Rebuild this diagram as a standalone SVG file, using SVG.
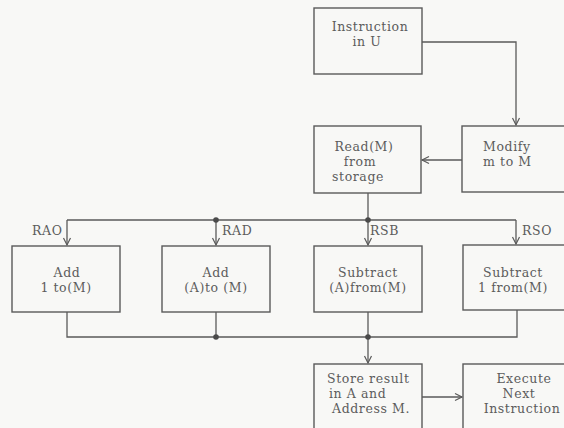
<svg xmlns="http://www.w3.org/2000/svg" width="564" height="428" viewBox="0 0 564 428">
  <defs>
    <marker id="arrow" markerWidth="10" markerHeight="10" refX="8" refY="5" orient="auto" markerUnits="userSpaceOnUse">
      <path d="M1,1.5 L8,5 L1,8.5" fill="none" stroke="#5a5a5a" stroke-width="1.2"/>
    </marker>
  </defs>
  <style>
    .box { fill: none; stroke: #5a5a5a; stroke-width: 1.4; }
    .wire { fill: none; stroke: #5a5a5a; stroke-width: 1.3; }
    .dot { fill: #4a4a4a; }
    text { font-family: "DejaVu Serif", "Liberation Serif", serif; font-size: 12.5px; letter-spacing: 0.6px; fill: #5c5c5c; }
    .c { text-anchor: middle; }
  </style>
  <rect width="564" height="428" fill="#f8f8f6"/>

  <!-- connectors -->
  <g id="connectors">
    <path class="wire" d="M422,42 H516 V125" marker-end="url(#arrow)"/>
    <path class="wire" d="M462,160 H422" marker-end="url(#arrow)"/>
    <path class="wire" d="M368,193 V220"/>
    <path class="wire" d="M67,220 H516"/>
    <path class="wire" d="M67,220 V245" marker-end="url(#arrow)"/>
    <path class="wire" d="M216,220 V245" marker-end="url(#arrow)"/>
    <path class="wire" d="M368,220 V245" marker-end="url(#arrow)"/>
    <path class="wire" d="M516,220 V244" marker-end="url(#arrow)"/>
    <path class="wire" d="M67,312 V337 H517 V310"/>
    <path class="wire" d="M216,312 V337"/>
    <path class="wire" d="M368,312 V337"/>
    <path class="wire" d="M368,337 V363" marker-end="url(#arrow)"/>
    <path class="wire" d="M422,397 H462" marker-end="url(#arrow)"/>
    <circle class="dot" cx="216" cy="220" r="2.8"/>
    <circle class="dot" cx="368" cy="220" r="2.8"/>
    <circle class="dot" cx="216" cy="337" r="2.8"/>
    <circle class="dot" cx="368" cy="337" r="2.8"/>
    <text x="32" y="235">RAO</text>
    <text x="222" y="235">RAD</text>
    <text x="370" y="235">RSB</text>
    <text x="522" y="235">RSO</text>
  </g>

  <g id="instruction">
    <rect class="box" x="314" y="8" width="108" height="66"/>
    <text class="c" x="370" y="31">Instruction</text>
    <text class="c" x="367" y="46">in U</text>
  </g>

  <g id="modify">
    <rect class="box" x="462" y="126" width="110" height="66"/>
    <text x="483" y="151">Modify</text>
    <text x="483" y="166">m to M</text>
  </g>

  <g id="read">
    <rect class="box" x="314" y="126" width="107" height="67"/>
    <text class="c" x="364" y="151">Read(M)</text>
    <text class="c" x="360" y="166">from</text>
    <text class="c" x="358" y="181">storage</text>
  </g>

  <g id="add-one">
    <rect class="box" x="12" y="246" width="108" height="66"/>
    <text class="c" x="67" y="277">Add</text>
    <text class="c" x="66" y="292">1 to(M)</text>
  </g>

  <g id="add-a">
    <rect class="box" x="162" y="246" width="108" height="66"/>
    <text class="c" x="216" y="277">Add</text>
    <text class="c" x="216" y="292">(A)to (M)</text>
  </g>

  <g id="subtract-a">
    <rect class="box" x="314" y="246" width="108" height="66"/>
    <text class="c" x="368" y="277">Subtract</text>
    <text class="c" x="368" y="292">(A)from(M)</text>
  </g>

  <g id="subtract-one">
    <rect class="box" x="463" y="245" width="110" height="65"/>
    <text class="c" x="513" y="277">Subtract</text>
    <text class="c" x="513" y="292">1 from(M)</text>
  </g>

  <g id="store">
    <rect class="box" x="314" y="364" width="108" height="70"/>
    <text x="327" y="383">Store result</text>
    <text x="329" y="398">in A and</text>
    <text x="332" y="413">Address M.</text>
  </g>

  <g id="execute">
    <rect class="box" x="463" y="364" width="110" height="70"/>
    <text class="c" x="524" y="383">Execute</text>
    <text class="c" x="519" y="398">Next</text>
    <text class="c" x="522" y="413">Instruction</text>
  </g>
</svg>
